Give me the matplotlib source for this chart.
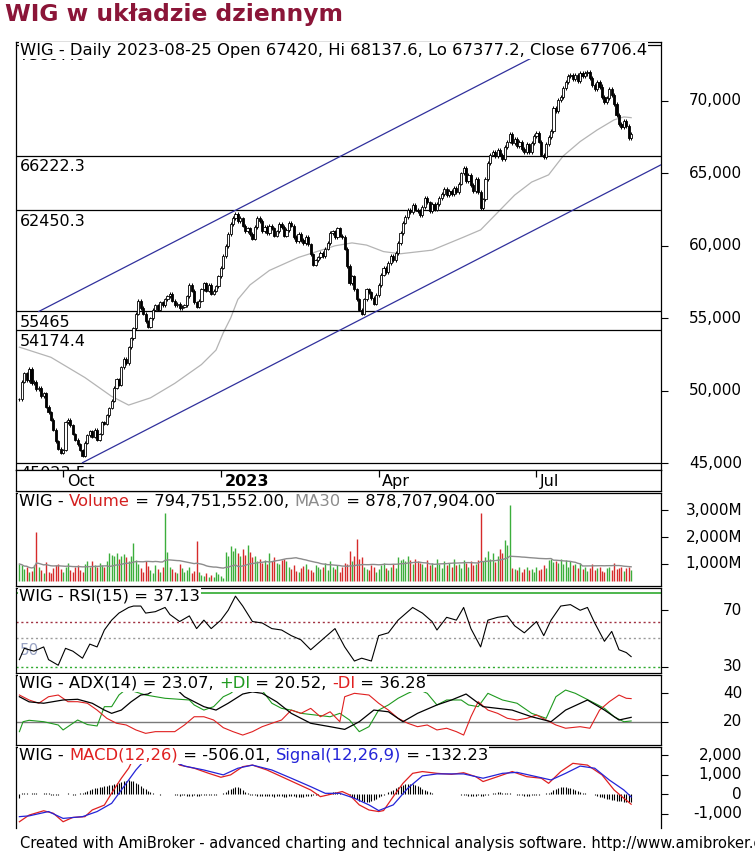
import numpy as np
import pandas as pd
import matplotlib
matplotlib.use("Agg")
import matplotlib.pyplot as plt
import matplotlib.transforms as mtransforms

plt.rcParams["font.family"] = ["DejaVu Sans"]

# ---------------- data ----------------
LAST_DAY = "2023-08-25"

# daily closes, WIG index
CLOSE = [
    49400, 50600, 51200, 50700, 51500, 50500, 50600, 50100, 50200, 49600,
    49800, 48900, 48500, 48000, 47300, 46500, 46000, 45700, 45900, 47800,
    48000, 47600, 47000, 46600, 46300, 45900, 45500, 46400, 46900, 47200,
    46800, 47300, 46600, 47000, 47800, 47700, 48300, 48800, 49300, 50200,
    50800, 50400, 51600, 52200, 51900, 53000, 53600, 54300, 55300, 56200,
    55700, 55300, 54800, 54400, 55000, 55600, 55900, 55600, 56100, 55900,
    56300, 56500, 56700, 56200, 55900, 56000, 55700, 55800, 55900, 56500,
    57300, 56900, 56100, 55800, 56200, 57000, 57400, 56900, 57300, 56700,
    56900, 57200, 57900, 58500, 59300, 60000, 60800, 61500, 61900, 62200,
    61700, 61900, 61400, 61000, 61200, 60800, 60500, 61300, 61900, 61700,
    61000, 61300, 60900, 61400, 61200, 60700, 61000, 61500, 61300, 60700,
    61100, 61600, 61400, 60600, 60300, 60800, 60400, 60200, 60600, 60100,
    59400, 58700, 59000, 59200, 59500, 59300, 59800, 60200, 60900, 61000,
    60600, 61200, 60700, 60600, 59800, 58600, 57400, 57900, 57000, 56300,
    55600, 55300, 56300, 57000, 56800, 56400, 56000, 56600, 57300, 58000,
    58500, 58200, 58800, 59300, 59000, 59500, 60200, 60900, 61600, 62000,
    62500, 62300, 62800, 62500, 62400, 62100, 62700, 63300, 63000, 62400,
    62900, 62500, 62900, 63300, 63600, 63900, 63500, 63800, 63600, 64000,
    63700, 64300, 65000, 65400, 64500, 64900, 64200, 63800, 64600, 63700,
    62600, 63200, 64600, 65700, 66300, 66500, 66200, 66600, 66300, 66000,
    66800, 67200, 67700, 67100, 67400, 66900, 67200, 66700, 66500, 67000,
    66500, 67100, 67600, 67800, 67200, 66300, 66100, 67000, 67500, 67900,
    69500, 69300, 70100, 70300, 70900, 71300, 71700, 71800, 71500, 71800,
    71400, 71900, 71700, 71900, 72000, 71600, 71100, 70800, 71300, 71000,
    70300, 69900, 70200, 70800, 70400, 69800, 69000, 68400, 68200, 68600,
    68300, 67420, 67706.4,
]

# daily volume, millions
VOLUME_M = [
    1000, 950, 820, 900, 700, 750, 980, 2200, 900, 760,
    680, 1080, 700, 650, 850, 960, 1000, 800, 720, 900,
    1050, 760, 700, 880, 980, 760, 700, 1000, 1100, 900,
    1120, 980, 900, 1050, 960, 880, 1100, 1400, 1350, 1280,
    1400, 1200, 1300, 1380, 1250, 1100, 1300, 1780, 1150, 1000,
    850, 700, 1100, 920, 760, 650, 980, 800, 720, 900,
    2900, 1450, 900, 800, 720, 650, 1000, 850, 700, 780,
    900, 680, 750, 1850, 700, 600, 550, 650, 500, 600,
    520, 700, 620, 550, 480, 1450, 1300, 1650, 1500, 1600,
    1400, 1300, 1550, 1350, 1700, 1450, 1250, 1300, 1100, 1200,
    1050, 1150, 1000, 1400, 1100, 1250, 1050, 1000, 1150, 1200,
    1100, 900, 800, 950, 750, 700, 860, 920, 1000, 800,
    760, 700, 950, 880, 820, 900, 1050, 760, 1100, 900,
    800, 950, 720, 880, 1050, 1000, 1480, 1100, 1300, 1920,
    1200, 1270, 900, 820, 760, 950, 880, 720, 800, 950,
    1050, 860, 780, 900, 1000, 850, 1250, 1150, 1200, 1100,
    1280, 1150, 1000, 1200, 1100, 1050, 1000, 880, 1150, 950,
    1050, 900, 1200, 1000, 850, 1100, 950, 1050, 900, 1180,
    980, 1000, 850, 1150, 1050, 900, 1100, 950, 1000, 1150,
    2900, 1100, 1250, 1500, 1200, 1400, 1080, 1300, 1550, 1400,
    1900, 1700, 3200, 850, 800, 760, 880, 720, 800, 900,
    760, 820, 700, 880, 760, 800, 950, 850, 1150, 1200,
    1080, 1100, 1050, 1180, 1000, 1150, 900, 1100, 950, 1000,
    850, 1050, 800, 900, 750, 850, 1000, 780, 850, 900,
    750, 700, 850, 900, 780, 1050, 800, 850, 900, 750,
    870, 900, 794.75,
]

# gray moving average on the price pane (bar index, value)
MA_IDX = [0, 13, 27, 38, 45, 54, 64, 75, 81, 84, 87, 90, 95, 103, 115, 130, 137,
          143, 150, 157, 170, 183, 190, 197, 204, 211, 218, 224, 231, 238, 245, 249, 252]
MA_VAL = [53000, 52300, 50900, 49600, 49000, 49500, 50500, 51800, 52800, 54000,
          55000, 56300, 57300, 58300, 59200, 60000, 60200, 60050, 59600, 59450,
          59700, 60600, 61100, 62300, 63500, 64400, 64900, 66200, 67200, 68000,
          68700, 68900, 68850]

LEVELS = [73897.6, 66222.3, 62450.3, 55465, 54174.4, 45023.5]
UPPER_CH = [(8, 55465.0), (89, 62450.3)]
LOWER_CH = [(26, 45023.5), (141, 54950.0)]

RSI_IDX = [0, 2, 6, 10, 12, 16, 19, 22, 26, 29, 32, 35, 38, 41, 45, 47, 50, 52, 56, 60,
           62, 66, 70, 73, 76, 79, 83, 86, 89, 92, 96, 100, 104, 108, 112, 116, 120,
           124, 130, 134, 138, 141, 145, 148, 152, 156, 162, 166, 170, 172, 176, 180,
           183, 186, 190, 193, 197, 201, 204, 208, 213, 216, 219, 223, 227, 231, 234,
           237, 241, 244, 247, 250, 252]
RSI_VAL = [35, 43, 41, 44, 35, 31, 43, 41, 36, 46, 44, 56, 63, 68, 72, 73, 73, 68, 69, 72,
           67, 62, 66, 57, 63, 57, 63, 70, 80, 73, 62, 61, 57, 56, 52, 49, 42,
           48, 57, 44, 34, 36, 34, 52, 54, 63, 72, 68, 62, 56, 65, 63,
           72, 57, 44, 63, 65, 66, 59, 54, 62, 52, 63, 73, 74, 70, 72,
           61, 48, 55, 42, 40, 37.13]

ADX_IDX = [0, 4, 10, 18, 24, 30, 35, 38, 42, 46, 50, 53, 58, 64, 68, 76, 81, 86, 92, 96,
           100, 106, 112, 120, 128, 134, 140, 146, 152, 158, 164, 172, 178, 184, 191,
           197, 203, 211, 219, 225, 234, 241, 247, 252]
ADX_VAL = [37.6, 34, 33, 35.3, 35.8, 33, 28.2, 25.9, 28.2, 34, 38.8, 39.5, 45, 44, 37.6,
           30.6, 28.2, 33, 39.5, 41, 40, 34, 25.9, 18.9, 16.5, 14.6, 20, 28.2, 27, 20,
           25.9, 31.8, 35.3, 39.5, 30.6, 29.4, 28.2, 23.5, 20, 28.2, 35.3, 28.2, 21.2, 23.07]

PDI_IDX = [0, 1.5, 4, 10, 16, 18, 24, 28, 32, 35, 38, 41, 44, 52, 60, 70, 72, 76, 80, 84,
           87, 90, 100, 104, 108, 112, 116, 122, 128, 132, 136, 140, 144, 148, 152, 156,
           160, 164, 168, 172, 176, 182, 185, 189, 193, 199, 205, 211, 217, 221, 225,
           229, 233, 237, 241, 245, 249, 252]
PDI_VAL = [13, 20, 21, 20, 17.7, 14.2, 21.2, 18, 17, 30.6, 30.6, 38.8, 43, 38.8, 36.5,
           35.3, 31.8, 28.2, 30.6, 37.6, 40, 44, 42, 33, 29.4, 28.2, 25.9, 24.7, 23.5,
           25.9, 21.2, 13, 16.5, 28.2, 31.8, 36.5, 40, 43, 40, 31.8, 35.3, 35.3, 31.8,
           30.6, 40, 35.3, 33, 25.9, 22.4, 37.6, 42.3, 40, 36.5, 33, 29.4, 23.5, 20, 20.52]

MDI_IDX = [0, 4, 8, 12, 16, 20, 24, 28, 32, 36, 40, 44, 48, 52, 56, 60, 64, 68, 72, 76,
           80, 84, 88, 92, 96, 100, 104, 108, 112, 116, 120, 124, 128, 132, 134, 138,
           144, 148, 152, 156, 160, 164, 168, 172, 176, 180, 183, 186, 189, 193, 197,
           201, 205, 209, 213, 217, 221, 225, 231, 235, 239, 243, 247, 250, 252]
MDI_VAL = [38.8, 35.3, 33, 37.6, 38.8, 34.1, 34.1, 33, 28.2, 22.4, 18.9, 17.7, 14.2, 11.8,
           13, 13, 13, 17.7, 23.5, 23.5, 21.2, 15.8, 13, 10.6, 13, 16.5, 18.9, 21.2, 28.2,
           25.9, 29.4, 23.5, 27, 20, 37.6, 40, 38.8, 33, 28.2, 22.4, 18.9, 16.5, 17.7,
           14.2, 15.4, 13, 10.6, 23.5, 34.1, 28.2, 25.9, 22.4, 21.2, 22.4, 24.7, 21.2,
           17.7, 15.4, 16.5, 15.4, 28.2, 34.1, 38.8, 36.5, 36.28]

MACD_IDX = [0, 4, 10, 14, 18, 22, 27, 30, 35, 38, 42, 45, 48, 55, 62, 66, 72, 78, 83, 87,
            92, 96, 102, 108, 114, 120, 124, 130, 133, 136, 140, 144, 148, 150, 154, 158,
            162, 166, 172, 178, 183, 188, 191, 197, 203, 209, 215, 218, 223, 228, 234,
            240, 245, 249, 252]
MACD_VAL = [-1400, -1060, -840, -970, -1400, -1180, -1140, -800, -550, 60, 820, 1330,
            2090, 2350, 2000, 1490, 1330, 1070, 870, 990, 1410, 1490, 1240, 900, 560,
            220, -120, 50, 140, -30, -540, -800, -880, -830, -120, 560, 1070, 1160,
            1070, 1020, 1100, 900, 650, 900, 1160, 900, 820, 560, 1160, 1580, 1490,
            990, 220, -200, -506.01]

SIG_IDX = [0, 4, 12, 18, 26, 32, 38, 43, 48, 51, 57, 63, 68, 76, 84, 90, 96, 104, 112,
           120, 126, 132, 138, 144, 148, 154, 160, 166, 172, 183, 191, 199, 205, 213,
           219, 225, 231, 237, 243, 249, 252]
SIG_VAL = [-1140, -1100, -880, -1230, -1140, -880, -460, 390, 1240, 1660, 1900, 1700,
           1440, 1240, 990, 1330, 1490, 1240, 820, 390, 50, 50, -200, -540, -830, -540,
           310, 940, 1040, 1040, 820, 1070, 1120, 900, 730, 1070, 1440, 1330, 730, 220,
           -132.23]

# daily MACD histogram
HIST = [
    -200, 60, 80, 50, 40, 70, 60, 50, 30, 40, 60, 80, 50, -40, -60, -50, -30, 20, 40,
    30, 50, 30, -20, -30, 40, 60, 80,
    120, 150, 200, 250, 300, 320, 350, 380, 400, 420, 450,
    480, 520, 560, 600, 640, 680, 700, 720, 700, 660, 600, 520,
    420, 330, 250, 180, 120, 70, 30,
    0, -20, 0, 0, 0, -10, 0,
    -40, -60, -80, -60, -50, -70, -90, -80, -60, -70, -80, -60, -50, -40, -60, -50,
    -30, -20, 0, 30, 60,
    120, 200, 280, 340, 380, 350, 300, 220, 140, 60,
    -20, -40, -60, -80, -70, -90, -100, -80, -90, -110, -120, -100, -90, -110, -130,
    -120, -100, -90, -110, -130, -150, -140, -120, -100, -90, -70, -50,
    -30, -20, 0, 20, 40, 60, 80, 100, 110, 90, 60, 40, 20, 0,
    -60, -120, -200, -260, -320, -360, -380, -400, -380, -340, -280, -220, -150, -80, -20,
    40, 100, 160, 230, 300, 360, 420, 470, 510, 540, 550, 530, 480, 420, 350, 280,
    220, 160, 110, 60,
    20, 10, 0, 0, -10, 0, 0, 10, 0, 0, -10,
    -20, -40, -60, -80, -100, -90, -70, -50, -80, -100, -60, -30, 20, 50, 80, 100,
    110, 90, 70, 60, 50, 40, 20, -20, -40, -60, -80, -90, -80, -60, -50, -40, -20,
    0, 30, 60, 90,
    140, 200, 260, 320, 360, 380, 370, 340, 300, 250, 200, 160, 120, 80, 60, 40, 20, 0,
    -40, -80, -120, -160, -200, -230, -260, -290, -310, -330, -350, -360, -370, -375,
    -380, -374,
]

MONTHS = [("2022-10-01", "Oct"), ("2023-01-01", "2023"), ("2023-04-01", "Apr"),
          ("2023-07-01", "Jul")]

HEADER = "WIG - Daily 2023-08-25 Open 67420, Hi 68137.6, Lo 67377.2, Close 67706.4"

# ---------------- layout ----------------
W, H = 755, 855
fig = plt.figure(figsize=(W / 100, H / 100), dpi=100)
FS = 11.8      # pane captions
FS_AX = 11     # right-hand scale
XL = (-1.4, 264.3)
LABEL_X = (742 - 16) / 645

RED = "#e02020"
GREEN = "#1f9a1f"
BLUE = "#2424d8"


def px_axes(left, top, right, bottom):
    ax = fig.add_axes([left / W, 1 - bottom / H, (right - left) / W, (bottom - top) / H])
    ax.set_xlim(*XL)
    ax.set_xticks([])
    for s in ax.spines.values():
        s.set_linewidth(0.9)
        s.set_color("black")
    return ax


def right_labels(ax, ticks, fmt):
    ax.set_yticks(ticks)
    ax.tick_params(axis="y", left=False, right=True, labelleft=False,
                   labelright=False, direction="out", length=5, width=0.8)
    tr = mtransforms.blended_transform_factory(ax.transAxes, ax.transData)
    for t in ticks:
        ax.text(LABEL_X, t, fmt(t), transform=tr, ha="right", va="center",
                fontsize=FS_AX, clip_on=False)


def pane_label(ax, parts):
    prev = None
    for s, col in parts:
        kw = dict(color=col, fontsize=FS, zorder=20, ha="left",
                  bbox=dict(fc="white", ec="none", pad=1.0))
        if prev is None:
            prev = ax.text(0.005, 0.99, s, transform=ax.transAxes, va="top", **kw)
        else:
            prev = ax.annotate(s, xy=(1, 0), xycoords=prev, va="bottom", **kw)


close = np.array(CLOSE, dtype=float)
n = len(close)
x = np.arange(n)
dates = pd.bdate_range(end=LAST_DAY, periods=n)
opn = np.r_[close[0], close[:-1]]
up = close >= opn

# ---------------- price pane ----------------
ax_p = px_axes(16, 42, 661, 470)
ax_p.set_ylim(44517, 74074)
right_labels(ax_p, [45000, 50000, 55000, 60000, 65000, 70000], lambda v: f"{v:,}")

ax_p.plot(MA_IDX, MA_VAL, color="#b4b4b4", lw=0.9, zorder=2)

trl = mtransforms.blended_transform_factory(ax_p.transAxes, ax_p.transData)
for lv in LEVELS:
    ax_p.axhline(lv, color="black", lw=0.9, zorder=2)
    t = ax_p.annotate(f"{lv:g}", xy=(0.006, lv), xycoords=trl, xytext=(0, -2.5),
                      textcoords="offset points", va="top", ha="left",
                      fontsize=11.5, zorder=6)
    t.set_clip_path(ax_p.patch)

for (i0, p0), (i1, p1) in (UPPER_CH, LOWER_CH):
    k = (p1 - p0) / (i1 - i0)
    ax_p.plot([i0, XL[1]], [p0, p0 + k * (XL[1] - i0)], color="#30309c", lw=0.9, zorder=3)

lo = np.minimum(opn, close)
hi = np.maximum(opn, close)
shadow = 0.002 * close
ax_p.vlines(x, lo - shadow, hi + shadow, color="black", lw=0.7, zorder=4)
ax_p.bar(x, hi - lo, bottom=lo, width=0.9, color=np.where(up, "white", "black"),
         edgecolor="black", linewidth=0.6, zorder=5)

ax_p.text(0.006, 0.997, HEADER, transform=ax_p.transAxes, va="top", ha="left",
          fontsize=FS, zorder=20, bbox=dict(fc="white", ec="none", pad=0.8))

# date strip
ax_d = px_axes(16, 470, 661, 491)
ax_d.set_ylim(0, 1)
ax_d.set_yticks([])
for d, lab in MONTHS:
    i = dates.searchsorted(pd.Timestamp(d))
    ax_d.vlines(i, 0.66, 1.0, color="black", lw=0.9)
    ax_d.text(i + 1.5, 0.45, lab, va="center", ha="left", fontsize=11.5,
              fontweight="bold" if lab.isdigit() else "normal")

# ---------------- volume pane ----------------
ax_v = px_axes(16, 493, 661, 586)
ax_v.set_ylim(185, 3630)
vol = np.array(VOLUME_M, dtype=float)
ax_v.vlines(x, 380, vol, colors=np.where(up, "#3cae3c", "#d62a2a"), lw=1.0, zorder=2)
ma30 = pd.Series(vol).rolling(30, min_periods=1).mean()
ax_v.plot(x, ma30, color="#8c8c8c", lw=1.0, zorder=3)
right_labels(ax_v, [1000, 2000, 3000], lambda v: f"{v:,}M")
pane_label(ax_v, [("WIG - ", "black"), ("Volume", "#d42020"),
                  (" = 794,751,552.00, ", "black"), ("MA30", "#8c8c8c"),
                  (" = 878,707,904.00", "black")])

# ---------------- RSI pane ----------------
ax_r = px_axes(16, 588, 661, 673)
ax_r.set_ylim(25.5, 85.8)
ax_r.axhline(82, color="#2faa2f", lw=1.2, zorder=1)
ax_r.axhline(62, color="#a03040", lw=1.0, ls=(0, (1.5, 2)), zorder=1)
ax_r.axhline(50, color="#9a9a9a", lw=1.0, ls=(0, (1.5, 2)), zorder=1)
ax_r.axhline(30, color="#2faa2f", lw=1.0, ls=(0, (1.5, 2)), zorder=1)
ax_r.annotate("50", xy=(0.4, 50), xytext=(0, -3.5), textcoords="offset points",
              va="top", ha="left", fontsize=11, color="#9aa4c4", zorder=1)
ax_r.plot(RSI_IDX, RSI_VAL, color="black", lw=0.8, zorder=3)
right_labels(ax_r, [30, 70], lambda v: f"{v}")
pane_label(ax_r, [("WIG - RSI(15) = 37.13", "black")])

# ---------------- ADX pane ----------------
ax_a = px_axes(16, 675, 661, 745)
ax_a.set_ylim(3.6, 52.9)
ax_a.axhline(20, color="#7a7a7a", lw=1.0, zorder=1)
ax_a.plot(PDI_IDX, PDI_VAL, color=GREEN, lw=0.8, zorder=3)
ax_a.plot(MDI_IDX, MDI_VAL, color=RED, lw=0.8, zorder=3)
ax_a.plot(ADX_IDX, ADX_VAL, color="black", lw=0.9, zorder=4)
right_labels(ax_a, [20, 40], lambda v: f"{v}")
pane_label(ax_a, [("WIG - ADX(14) = 23.07, ", "black"), ("+DI", GREEN),
                  (" = 20.52, ", "black"), ("-DI", RED), (" = 36.28", "black")])

# ---------------- MACD pane ----------------
ax_m = px_axes(16, 747, 661, 828)
ax_m.set_ylim(-1719, 2413)
ax_m.spines["bottom"].set_visible(False)
ax_m.vlines(x, 0, HIST, color="black", lw=0.8, zorder=2)
ax_m.plot(MACD_IDX, MACD_VAL, color=RED, lw=0.9, zorder=3)
ax_m.plot(SIG_IDX, SIG_VAL, color=BLUE, lw=0.9, zorder=4)
right_labels(ax_m, [-1000, 0, 1000, 2000], lambda v: f"{v:,}")
pane_label(ax_m, [("WIG - ", "black"), ("MACD(12,26)", RED), (" = -506.01, ", "black"),
                  ("Signal(12,26,9)", BLUE), (" = -132.23", "black")])

# ---------------- titles ----------------
fig.text(5 / W, 1 - 15 / H, "WIG w układzie dziennym", fontsize=16.8, fontweight="bold",
         color="#8b1538", va="center", ha="left")
fig.text(20 / W, 1 - 843 / H,
         "Created with AmiBroker - advanced charting and technical analysis software. "
         "http://www.amibroker.com", fontsize=10.5, va="center", ha="left")

fig.savefig("out.png", dpi=100)
